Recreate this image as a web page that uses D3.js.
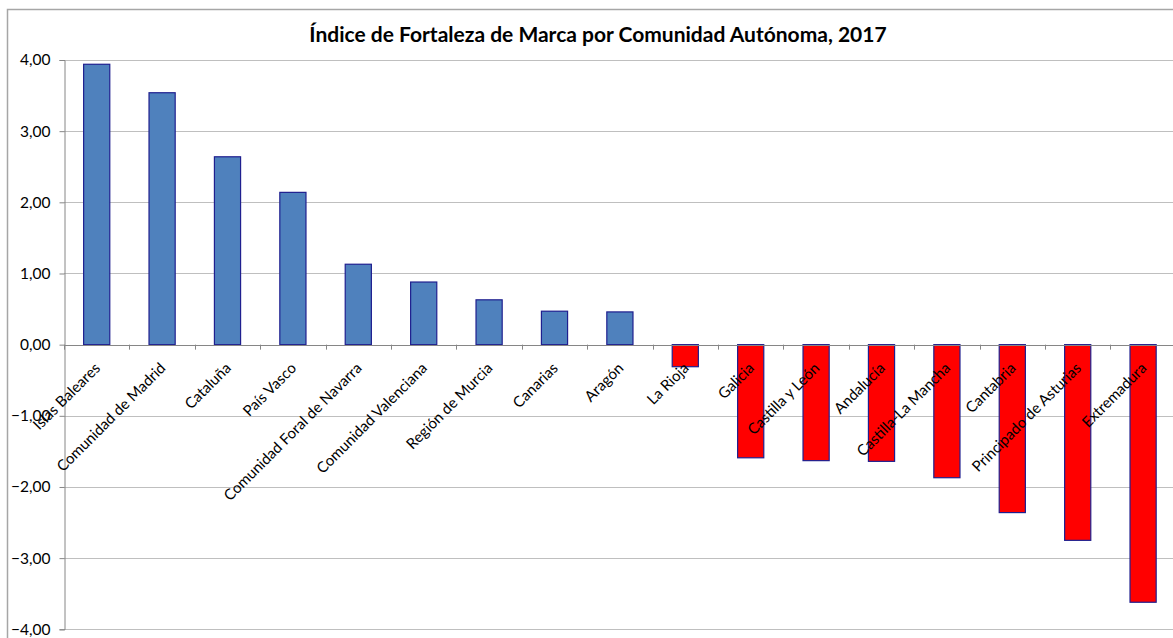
<!DOCTYPE html>
<html><head><meta charset="utf-8">
<script src="https://cdn.jsdelivr.net/npm/d3@7"></script>
<style>
html,body{margin:0;padding:0;background:#fff;}
svg{display:block;font-family:Lato,"Open Sans",sans-serif;}
</style></head>
<body>
<svg id="chart" width="1173" height="638"></svg>
<script>
const title = "Índice de Fortaleza de Marca por Comunidad Autónoma, 2017";
const categories = ["Islas Baleares","Comunidad de Madrid","Cataluña","País Vasco","Comunidad Foral de Navarra","Comunidad Valenciana","Región de Murcia","Canarias","Aragón","La Rioja","Galicia","Castilla y León","Andalucía","Castilla-La Mancha","Cantabria","Principado de Asturias","Extremadura"];
const values = [3.94,3.54,2.64,2.14,1.13,0.88,0.63,0.47,0.46,-0.31,-1.59,-1.63,-1.64,-1.87,-2.36,-2.75,-3.62];
const yTicks = [4,3,2,1,0,-1,-2,-3,-4];

const svg = d3.select("#chart");
const pLeft = 64, pRight = 64 + 17*65.4, pTop = 60, pBottom = 629.3;

// frame
svg.append("rect").attr("x",7.5).attr("y",9.5).attr("width",1200).attr("height",700)
  .attr("fill","none").attr("stroke","#a6a6a6").attr("stroke-width",1.5);

const x = d3.scaleBand().domain(categories).range([pLeft,pRight]).paddingInner(0.6).paddingOuter(0.3);
const y = d3.scaleLinear().domain([-4,4]).range([pBottom,pTop]);

// gridlines
svg.append("g").selectAll("line").data(yTicks.filter(d=>d!==0)).join("line")
  .attr("x1",pLeft).attr("x2",1173).attr("y1",d=>Math.round(y(d))+0.5).attr("y2",d=>Math.round(y(d))+0.5)
  .attr("stroke","#bfbfbf").attr("stroke-width",1);

// y axis
const fmt = d3.formatLocale({decimal:",",thousands:".",grouping:[3],currency:["","€"]}).format(".2f");
const yAxis = svg.append("g").attr("transform",`translate(${pLeft+0.5},0)`)
  .call(d3.axisLeft(y).tickValues(yTicks).tickFormat(fmt).tickSize(5).tickPadding(9));
yAxis.select(".domain").attr("stroke","#868686");
yAxis.selectAll(".tick line").attr("stroke","#868686");
yAxis.selectAll(".tick text").attr("font-size","15.5px").attr("fill","#000").attr("font-family","Lato,sans-serif");

// bars
svg.append("g").selectAll("rect").data(values).join("rect")
  .attr("x",(d,i)=>x(categories[i]))
  .attr("width",x.bandwidth())
  .attr("y",d=>y(Math.max(0,d)))
  .attr("height",d=>Math.abs(y(d)-y(0)))
  .attr("fill",d=>d>=0?"#4f81bd":"#ff0000")
  .attr("stroke","#1f1f8f").attr("stroke-width",1.2);

// x axis (zero line)
const step = x.step();
svg.append("g").selectAll("line").data(d3.range(18)).join("line")
  .attr("x1",i=>Math.round(pLeft + i*step)+0.5).attr("x2",i=>Math.round(pLeft + i*step)+0.5)
  .attr("y1",y(0)).attr("y2",y(0)+5).attr("stroke","#868686");
svg.append("line").attr("x1",pLeft).attr("x2",1173).attr("y1",Math.round(y(0))+0.5).attr("y2",Math.round(y(0))+0.5).attr("stroke","#868686");

// category labels
svg.append("g").selectAll("text").data(categories).join("text")
  .attr("transform",d=>`translate(${x(d)+x.bandwidth()/2-3},${y(0)+17}) rotate(-45)`)
  .attr("text-anchor","end").attr("dy","0.7em")
  .attr("font-size","15px").attr("fill","#000")
  .text(d=>d);

// title
svg.append("text").attr("x",598).attr("y",42).attr("text-anchor","middle")
  .attr("font-size","21px").attr("font-weight","bold").attr("fill","#000").text(title);
</script>
</body></html>
